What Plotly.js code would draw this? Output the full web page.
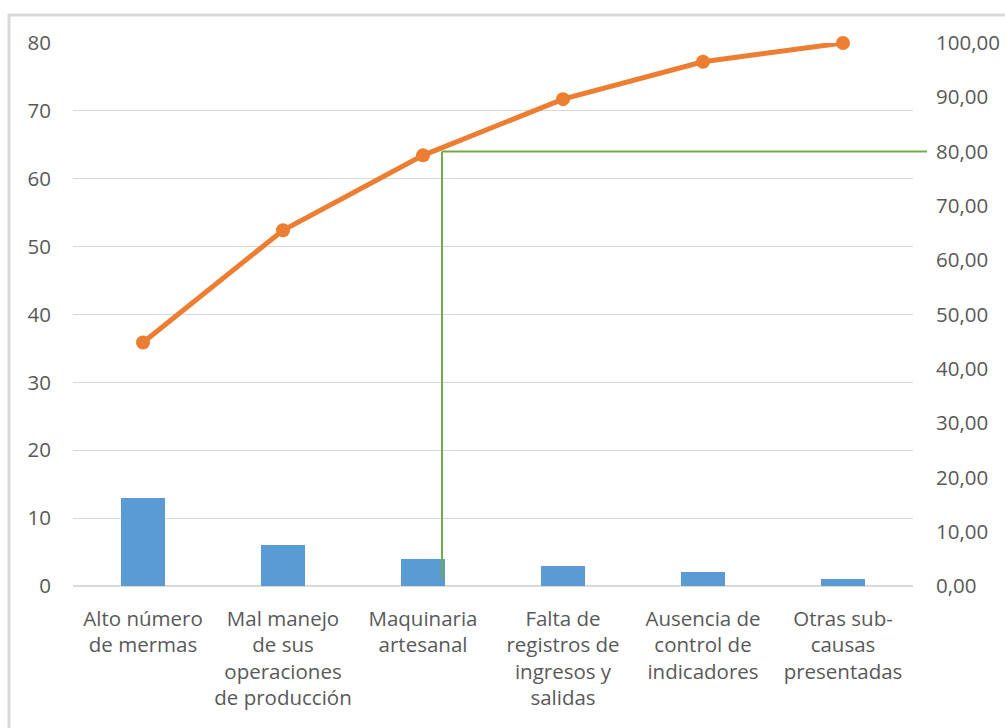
<!DOCTYPE html>
<html>
<head>
<meta charset="utf-8">
<script src="https://cdn.plot.ly/plotly-3.0.1.min.js"></script>
<style>html,body{margin:0;padding:0;background:#fff;}#chart{width:1005px;height:728px;}</style>
</head>
<body>
<div id="chart"></div>
<script>
const categories = [
  "Alto número<br>de mermas",
  "Mal manejo<br>de sus<br>operaciones<br>de producción",
  "Maquinaria<br>artesanal",
  "Falta de<br>registros de<br>ingresos y<br>salidas",
  "Ausencia de<br>control de<br>indicadores",
  "Otras sub-<br>causas<br>presentadas"
];
const frequency = [13, 6, 4, 3, 2, 1];
const cumulativePct = [44.83, 65.52, 79.31, 89.66, 96.55, 100.00];
const leftTicks = [0, 10, 20, 30, 40, 50, 60, 70, 80];
const rightTicks = [0, 10, 20, 30, 40, 50, 60, 70, 80, 90, 100];
const cutoffPct = 80;

const fontFam = "Open Sans, Noto Sans, sans-serif";
const gray = "#595959";
const fs = 20.5;

const traces = [
  {
    type: "bar", x: categories, y: frequency,
    marker: {color: "#5B9BD5"}, width: 0.314, yaxis: "y",
    hoverinfo: "x+y"
  },
  {
    type: "scatter", mode: "lines+markers", x: categories, y: cumulativePct,
    yaxis: "y2", line: {color: "#ED7D31", width: 5},
    marker: {color: "#ED7D31", size: 14}, cliponaxis: false
  }
];

const layout = {
  width: 1005, height: 728,
  margin: {l: 73, r: 92, t: 43, b: 142},
  paper_bgcolor: "#fff", plot_bgcolor: "#fff",
  showlegend: false,
  separators: ",.",
  font: {family: fontFam, size: fs, color: gray},
  bargap: 0,
  xaxis: {
    type: "category", showgrid: false, zeroline: false, showline: false,
    ticks: "", tickfont: {family: fontFam, size: fs, color: gray},
    range: [-0.5, 5.5], fixedrange: true, ticklabelstandoff: 18
  },
  yaxis: {
    range: [0, 80], tickvals: leftTicks, showgrid: true, gridcolor: "#d9d9d9",
    gridwidth: 1, zeroline: true, zerolinecolor: "#d9d9d9", zerolinewidth: 1.5,
    showline: false, ticks: "", ticklabelstandoff: 21,
    tickfont: {family: fontFam, size: fs, color: gray}
  },
  yaxis2: {
    overlaying: "y", side: "right", range: [0, 100], tickvals: rightTicks,
    tickformat: ".2f", showgrid: false, zeroline: false, showline: false,
    ticks: "", ticklabelstandoff: 22,
    tickfont: {family: fontFam, size: fs, color: gray}
  },
  shapes: [
    {type: "rect", xref: "paper", yref: "paper", x0: -0.0762, x1: 1.3, y0: -0.6, y1: 1.0516,
     line: {color: "#d9d9d9", width: 3}, fillcolor: "rgba(0,0,0,0)", layer: "below"},
    {type: "line", xref: "paper", yref: "y2", x0: 0.4393, x1: 0.4393, y0: 1.3, y1: cutoffPct,
     line: {color: "#70AD47", width: 2}},
    {type: "line", xref: "paper", yref: "y2", x0: 0.4393, x1: 1.0167, y0: cutoffPct, y1: cutoffPct,
     line: {color: "#70AD47", width: 2}}
  ]
};

Plotly.newPlot("chart", traces, layout, {displayModeBar: false, staticPlot: true});
</script>
</body>
</html>
